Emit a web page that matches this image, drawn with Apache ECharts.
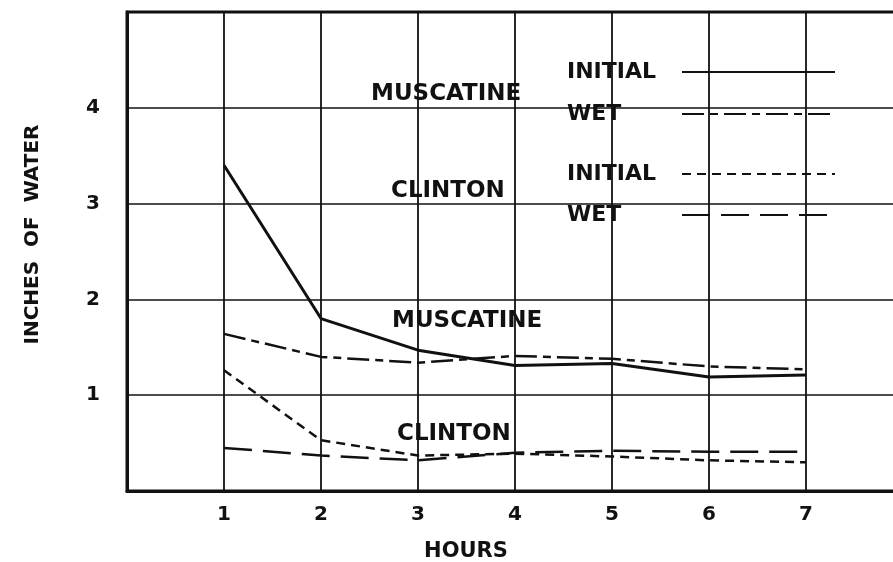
<!DOCTYPE html>
<html>
<head>
<meta charset="utf-8">
<script src="https://cdn.jsdelivr.net/npm/echarts@6/dist/echarts.min.js"></script>
<style>
html,body{margin:0;padding:0;background:#fff;}
#c{width:893px;height:562px;}
</style>
</head>
<body>
<div id="c"></div>
<script>
const hours = [1, 2, 3, 4, 5, 6, 7];
const xTickLabels = ['1', '2', '3', '4', '5', '6', '7'];
const yTickLabels = ['1', '2', '3', '4'];
const muscatineInitial = [3.40, 1.80, 1.47, 1.31, 1.33, 1.19, 1.21];
const muscatineWet = [1.64, 1.40, 1.34, 1.41, 1.38, 1.30, 1.27];
const clintonInitial = [1.26, 0.53, 0.37, 0.39, 0.36, 0.32, 0.30];
const clintonWet = [0.45, 0.37, 0.32, 0.40, 0.42, 0.41, 0.41];

const FONT = '"DejaVu Sans", sans-serif';
const INK = '#111';

function pairs(vals) { return hours.map((h, i) => [h, vals[i]]); }

const chart = echarts.init(document.getElementById('c'), null, {renderer: 'canvas'});

const legendText = {
  rich: { a: { fontFamily: FONT, fontWeight: 'bold', fontSize: 22, color: INK, width: 110, align: 'left', lineHeight: 22 } }
};
const hiddenSymbol = { color: 'rgba(0,0,0,0)', borderColor: 'rgba(0,0,0,0)', borderWidth: 0, opacity: 0 };

chart.setOption({
  backgroundColor: '#fff',
  animation: false,
  grid: { left: 127, top: 12, bottom: 71, right: -10, show: true, borderColor: INK, borderWidth: 3,
          backgroundColor: 'transparent', containLabel: false, outerBoundsMode: 'none' },
  xAxis: {
    type: 'value', min: 0, max: 8, interval: 1,
    name: 'HOURS', nameLocation: 'middle', nameGap: 50,
    nameTextStyle: { fontFamily: FONT, fontWeight: 'bold', fontSize: 21, color: INK, padding: [0, 98, 0, 0] },
    axisLine: { show: true, lineStyle: { color: INK, width: 3 } },
    axisTick: { show: false },
    axisLabel: {
      margin: 14, fontFamily: FONT, fontWeight: 'bold', fontSize: 20, color: INK,
      formatter: v => { const i = hours.indexOf(v); return i >= 0 ? xTickLabels[i] : ''; }
    },
    splitLine: { show: true, lineStyle: { color: INK, width: 1.8 } }
  },
  yAxis: {
    type: 'value', min: 0, max: 5, interval: 1,
    name: 'INCHES  OF  WATER', nameLocation: 'middle', nameGap: 84,
    nameTextStyle: { fontFamily: FONT, fontWeight: 'bold', fontSize: 20, color: INK, padding: [0, 0, 0, 34] },
    axisLine: { show: true, lineStyle: { color: INK, width: 3 } },
    axisTick: { show: false },
    axisLabel: {
      margin: 27, fontFamily: FONT, fontWeight: 'bold', fontSize: 20, color: INK,
      formatter: v => (v >= 1 && v <= 4) ? yTickLabels[v - 1] : ''
    },
    splitLine: { show: true, lineStyle: { color: INK, width: 1.6 } }
  },
  legend: [
    {
      data: ['Muscatine initial', 'Muscatine wet'],
      orient: 'vertical', align: 'right', left: 562, top: 56,
      itemWidth: 153, itemHeight: 22, itemGap: 20,
      itemStyle: hiddenSymbol,
      formatter: n => '{a|' + (n.indexOf('initial') >= 0 ? 'INITIAL' : 'WET') + '}',
      textStyle: legendText, selectedMode: false
    },
    {
      data: ['Clinton initial', 'Clinton wet'],
      orient: 'vertical', align: 'right', left: 562, top: 158,
      itemWidth: 153, itemHeight: 22, itemGap: 19,
      itemStyle: hiddenSymbol,
      formatter: n => '{a|' + (n.indexOf('initial') >= 0 ? 'INITIAL' : 'WET') + '}',
      textStyle: legendText, selectedMode: false
    }
  ],
  series: [
    { name: 'Muscatine initial', type: 'line', data: pairs(muscatineInitial), symbol: 'none',
      lineStyle: { color: INK, width: 3, type: 'solid' }, itemStyle: { color: INK } },
    { name: 'Muscatine wet', type: 'line', data: pairs(muscatineWet), symbol: 'none',
      lineStyle: { color: INK, width: 2.5, type: [22, 6, 8, 6] }, itemStyle: { color: INK } },
    { name: 'Clinton initial', type: 'line', data: pairs(clintonInitial), symbol: 'none',
      lineStyle: { color: INK, width: 2.5, type: [9, 6] }, itemStyle: { color: INK } },
    { name: 'Clinton wet', type: 'line', data: pairs(clintonWet), symbol: 'none',
      lineStyle: { color: INK, width: 2.5, type: [28, 11] }, itemStyle: { color: INK } }
  ],
  graphic: [
    { type: 'text', left: 371, top: 83, style: { text: 'MUSCATINE', font: 'bold 23px "DejaVu Sans", sans-serif', fill: INK } },
    { type: 'text', left: 391, top: 180, style: { text: 'CLINTON', font: 'bold 23px "DejaVu Sans", sans-serif', fill: INK } },
    { type: 'text', left: 392, top: 310, style: { text: 'MUSCATINE', font: 'bold 23px "DejaVu Sans", sans-serif', fill: INK } },
    { type: 'text', left: 397, top: 423, style: { text: 'CLINTON', font: 'bold 23px "DejaVu Sans", sans-serif', fill: INK } }
  ]
});
</script>
</body>
</html>
